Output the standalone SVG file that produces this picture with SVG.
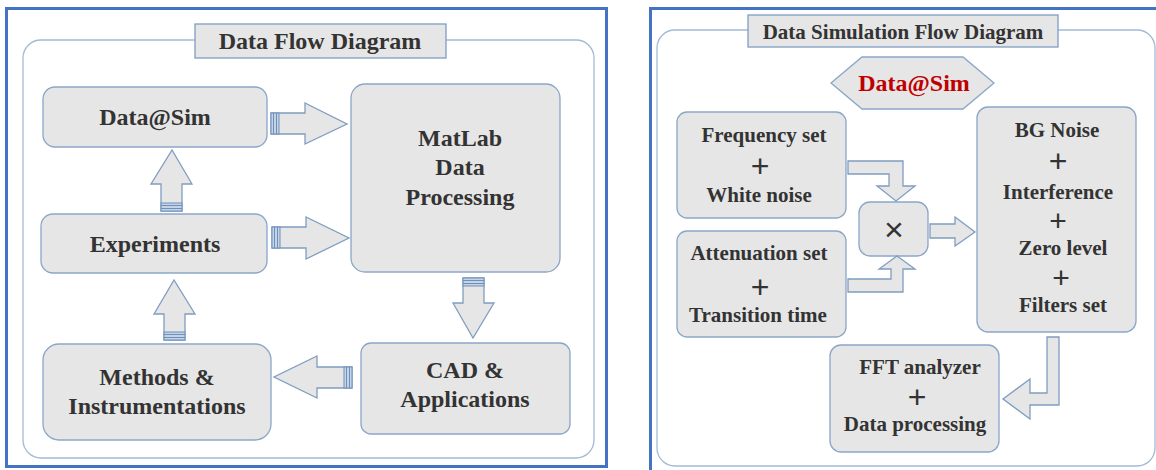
<svg xmlns="http://www.w3.org/2000/svg" width="1156" height="470" viewBox="0 0 1156 470">
<style>
.panel{fill:#fff;stroke:#4472C4;stroke-width:3}
.inner{fill:#fff;stroke:#A3BAD6;stroke-width:1.3}
.title{fill:#E6E6E6;stroke:#7F9FC3;stroke-width:1.3}
.box{fill:#E6E6E6;stroke:#8AA6C8;stroke-width:1.3}
.arr{fill:#E6E6E6;stroke:#7F9DC0;stroke-width:1.3;stroke-linejoin:miter}
.stripe{fill:#C5D3E6;stroke:#6E8FBA;stroke-width:1}
.t{font-weight:bold;fill:#333;text-anchor:middle}
.l{font-size:24px}
.r{font-size:21px}
.plus{font-size:32px;fill:#333;text-anchor:middle}
</style>

<!-- Left panel -->
<rect class="panel" x="6.5" y="8.5" width="600" height="458"/>
<rect class="inner" x="23" y="40" width="571" height="418" rx="18"/>
<g font-family="Liberation Serif, DejaVu Serif, serif">
<g id="left-title">
<rect class="title" x="195" y="24" width="251" height="34"/>
<text class="t l" x="320" y="49">Data Flow Diagram</text>
</g>

<g id="node-datasim">
<rect class="box" x="43" y="87" width="224" height="60" rx="12"/>
<text class="t l" x="155" y="125">Data@Sim</text>
</g>
<g id="node-experiments">
<rect class="box" x="41" y="214" width="226" height="59" rx="12"/>
<text class="t l" x="155" y="252">Experiments</text>
</g>
<g id="node-methods">
<rect class="box" x="43" y="344" width="228" height="96" rx="16"/>
<text class="t l" x="157" y="385">Methods &amp;</text>
<text class="t l" x="157" y="414">Instrumentations</text>
</g>
<g id="node-matlab">
<rect class="box" x="351" y="84" width="209" height="188" rx="14"/>
<text class="t l" x="460" y="146">MatLab</text>
<text class="t l" x="460" y="175">Data</text>
<text class="t l" x="460" y="205">Processing</text>
</g>
<g id="node-cad">
<rect class="box" x="361" y="343" width="209" height="91" rx="10"/>
<text class="t l" x="465" y="378">CAD &amp;</text>
<text class="t l" x="465" y="407">Applications</text>
</g>
</g>

<!-- Right panel -->
<rect class="panel" x="650.5" y="8.5" width="520" height="470"/>
<rect class="inner" x="657" y="30" width="498" height="436" rx="18"/>
<g font-family="Liberation Serif, DejaVu Serif, serif">
<g id="right-title">
<rect class="title" x="748" y="15" width="310" height="32"/>
<text class="t r" x="903" y="39">Data Simulation Flow Diagram</text>
</g>

<g id="node-datasim-hex">
<polygon class="box" points="831,83 862,57 963,57 994,83 963,109 862,109"/>
<text class="t l" x="914" y="91" fill="#C00000" style="fill:#C00000">Data@Sim</text>
</g>
<g id="node-frequency">
<rect class="box" x="677" y="112" width="169" height="106" rx="10"/>
<text class="t r" x="764" y="142">Frequency set</text>
<text class="plus" x="760" y="177" font-family="Liberation Sans, Arial, sans-serif">+</text>
<text class="t r" x="759" y="202">White noise</text>
</g>
<g id="node-attenuation">
<rect class="box" x="677" y="231" width="169" height="106" rx="10"/>
<text class="t r" x="759" y="260">Attenuation set</text>
<text class="plus" x="760" y="298" font-family="Liberation Sans, Arial, sans-serif">+</text>
<text class="t r" x="758" y="322">Transition time</text>
</g>
<g id="node-multiply">
<rect class="box" x="859" y="202" width="69" height="54" rx="11"/>
<text class="plus" x="894" y="241" font-family="Liberation Sans, Arial, sans-serif" style="font-size:34px">×</text>
</g>
<g id="node-bgnoise">
<rect class="box" x="977" y="107" width="159" height="225" rx="11"/>
<text class="t r" x="1057" y="137">BG Noise</text>
<text class="plus" x="1058" y="172" font-family="Liberation Sans, Arial, sans-serif">+</text>
<text class="t r" x="1058" y="199">Interference</text>
<text class="plus" x="1058" y="231" font-family="Liberation Sans, Arial, sans-serif" style="font-size:30px">+</text>
<text class="t r" x="1063" y="255">Zero level</text>
<text class="plus" x="1061" y="288" font-family="Liberation Sans, Arial, sans-serif" style="font-size:30px">+</text>
<text class="t r" x="1063" y="312">Filters set</text>
</g>
<g id="node-fft">
<rect class="box" x="830" y="345" width="169" height="107" rx="11"/>
<text class="t r" x="920" y="374">FFT analyzer</text>
<text class="plus" x="917" y="408" font-family="Liberation Sans, Arial, sans-serif">+</text>
<text class="t r" x="915" y="431">Data processing</text>
</g>
</g>

<g id="connectors">
<!-- left panel block arrows -->
<polygon class="arr" points="271,113 305,113 305,103 347,124 305,144 305,134 271,134"/>
<rect class="stripe" x="271" y="113" width="8" height="21"/>
<line x1="273.5" y1="113" x2="273.5" y2="134" stroke="#6E8FBA"/>
<line x1="276.5" y1="113" x2="276.5" y2="134" stroke="#6E8FBA"/>

<polygon class="arr" points="272,227 306,227 306,217 349,238 306,259 306,248 272,248"/>
<rect class="stripe" x="272" y="227" width="8" height="21"/>
<line x1="274.5" y1="227" x2="274.5" y2="248" stroke="#6E8FBA"/>
<line x1="277.5" y1="227" x2="277.5" y2="248" stroke="#6E8FBA"/>

<polygon class="arr" points="161,211 161,184 151,184 172,150 192,184 182,184 182,211"/>
<rect class="stripe" x="161" y="203" width="21" height="8"/>
<line x1="161" y1="205.5" x2="182" y2="205.5" stroke="#6E8FBA"/>
<line x1="161" y1="208.5" x2="182" y2="208.5" stroke="#6E8FBA"/>

<polygon class="arr" points="164,340 164,314 154,314 174,280 195,314 185,314 185,340"/>
<rect class="stripe" x="164" y="332" width="21" height="8"/>
<line x1="164" y1="334.5" x2="185" y2="334.5" stroke="#6E8FBA"/>
<line x1="164" y1="337.5" x2="185" y2="337.5" stroke="#6E8FBA"/>

<polygon class="arr" points="463,278 484,278 484,303 494,303 473,338 453,303 463,303"/>
<rect class="stripe" x="463" y="278" width="21" height="8"/>
<line x1="463" y1="280.5" x2="484" y2="280.5" stroke="#6E8FBA"/>
<line x1="463" y1="283.5" x2="484" y2="283.5" stroke="#6E8FBA"/>

<polygon class="arr" points="352,367 317,367 317,356 274,377 317,398 317,388 352,388"/>
<rect class="stripe" x="344" y="367" width="8" height="21"/>
<line x1="346.5" y1="367" x2="346.5" y2="388" stroke="#6E8FBA"/>
<line x1="349.5" y1="367" x2="349.5" y2="388" stroke="#6E8FBA"/>

<!-- right panel arrows -->
<polygon class="arr" points="848,161 903,161 903,186 915,186 896,201 877,186 889,186 889,174 848,174"/>
<polygon class="arr" points="848,292 903,292 903,269 915,269 897,256 879,269 891,269 891,279 848,279"/>
<polygon class="arr" points="930,224 955,224 955,217 975,232 955,246 955,238 930,238"/>
<polygon class="arr" points="1047,337 1059,337 1059,405 1030,405 1030,419 1003,399 1030,379 1030,393 1047,393"/>
</g>
</svg>
